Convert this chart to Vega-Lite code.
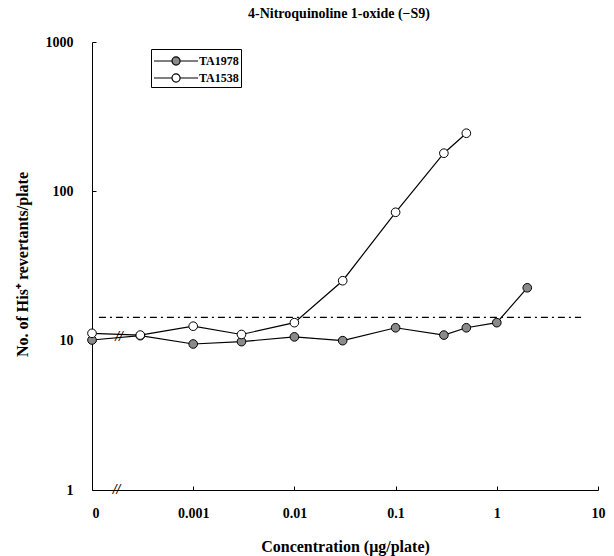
{
  "$schema": "https://vega.github.io/schema/vega-lite/v6.json",
  "width": 506,
  "height": 448,
  "autosize": {"type": "none"},
  "padding": {"left": 92, "top": 42, "right": 16, "bottom": 66},
  "background": "white",
  "title": {
    "text": "4-Nitroquinoline 1-oxide (\u2212S9)",
    "font": "Liberation Serif",
    "fontSize": 14,
    "fontWeight": "bold",
    "color": "black",
    "anchor": "middle",
    "baseline": "bottom",
    "offset": 14,
    "dx": -6,
    "dy": 14
  },
  "config": {
    "view": {"stroke": null},
    "font": "Liberation Serif",
    "axis": {
      "domainColor": "black",
      "tickColor": "black",
      "labelColor": "black",
      "titleColor": "black",
      "labelFont": "Liberation Serif",
      "titleFont": "Liberation Serif",
      "labelFontWeight": "bold",
      "titleFontWeight": "bold",
      "grid": false,
      "tickSize": -4
    }
  },
  "datasets": {
    "counts": [
      {"strain": "TA1978", "conc": 0.0001, "revertants": 10.1},
      {"strain": "TA1978", "conc": 0.0003, "revertants": 10.8},
      {"strain": "TA1978", "conc": 0.001, "revertants": 9.5},
      {"strain": "TA1978", "conc": 0.003, "revertants": 9.85},
      {"strain": "TA1978", "conc": 0.01, "revertants": 10.6},
      {"strain": "TA1978", "conc": 0.03, "revertants": 10.0},
      {"strain": "TA1978", "conc": 0.1, "revertants": 12.2},
      {"strain": "TA1978", "conc": 0.3, "revertants": 10.9},
      {"strain": "TA1978", "conc": 0.5, "revertants": 12.2},
      {"strain": "TA1978", "conc": 1, "revertants": 13.2},
      {"strain": "TA1978", "conc": 2, "revertants": 22.6},
      {"strain": "TA1538", "conc": 0.0001, "revertants": 11.2},
      {"strain": "TA1538", "conc": 0.0003, "revertants": 10.9},
      {"strain": "TA1538", "conc": 0.001, "revertants": 12.5},
      {"strain": "TA1538", "conc": 0.003, "revertants": 11.0},
      {"strain": "TA1538", "conc": 0.01, "revertants": 13.2},
      {"strain": "TA1538", "conc": 0.03, "revertants": 25.2},
      {"strain": "TA1538", "conc": 0.1, "revertants": 72.4},
      {"strain": "TA1538", "conc": 0.3, "revertants": 180},
      {"strain": "TA1538", "conc": 0.5, "revertants": 245}
    ],
    "threshold": [
      {"from": 0.000117, "to": 6.8, "level": 14.3}
    ],
    "breaks": [
      {"conc": 0.000175, "revertants": 1.0},
      {"conc": 0.000185, "revertants": 10.6}
    ]
  },
  "layer": [
    {
      "data": {"name": "threshold"},
      "mark": {"type": "rule", "color": "black", "strokeWidth": 1.3, "strokeDash": [7, 4, 2, 4]},
      "encoding": {
        "x": {"field": "from", "type": "quantitative", "scale": {"type": "log", "domain": [0.0001, 10]}},
        "x2": {"field": "to"},
        "y": {"field": "level", "type": "quantitative", "scale": {"type": "log", "domain": [1, 1000]}}
      }
    },
    {
      "data": {"name": "counts"},
      "mark": {"type": "line", "color": "black", "strokeWidth": 1.2},
      "encoding": {
        "x": {
          "field": "conc", "type": "quantitative",
          "scale": {"type": "log", "domain": [0.0001, 10]},
          "axis": {
            "values": [0.0001, 0.001, 0.01, 0.1, 1, 10],
            "labelExpr": "datum.value < 0.0005 ? '0' : datum.value < 0.005 ? '0.001' : datum.value < 0.05 ? '0.01' : datum.value < 0.5 ? '0.1' : datum.value < 5 ? '1' : '10'",
            "labelAlign": {"expr": "datum.value < 0.0005 ? 'left' : 'center'"},
            "labelFontSize": 14,
            "labelPadding": 20,
            "title": "Concentration (\u03bcg/plate)",
            "titleFontSize": 16,
            "titlePadding": 18
          }
        },
        "y": {
          "field": "revertants", "type": "quantitative",
          "scale": {"type": "log", "domain": [1, 1000]},
          "axis": {
            "values": [1, 10, 100, 1000],
            "format": "d",
            "labelFontSize": 14,
            "labelPadding": 23,
            "title": "No. of His\u207a revertants/plate",
            "titleFontSize": 16,
            "titleX": -70,
            "titleY": 222,
            "titleBaseline": "middle"
          }
        },
        "detail": {"field": "strain"}
      }
    },
    {
      "data": {"name": "counts"},
      "mark": {"type": "point", "shape": "circle", "filled": true, "stroke": "black", "strokeWidth": 1, "size": 75, "opacity": 1},
      "encoding": {
        "x": {"field": "conc", "type": "quantitative"},
        "y": {"field": "revertants", "type": "quantitative"},
        "fill": {
          "field": "strain", "type": "nominal",
          "scale": {"domain": ["TA1978", "TA1538"], "range": ["#8a8a8a", "white"]},
          "legend": {
            "title": null,
            "orient": "none",
            "legendX": 59,
            "legendY": 7,
            "direction": "vertical",
            "strokeColor": "black",
            "fillColor": "white",
            "padding": 2,
            "symbolType": "M-1,0H1M1.9,0H3.9M1,0A0.45,0.45,0,1,0,1.9,0A0.45,0.45,0,1,0,1,0Z",
            "symbolSize": 324,
            "symbolStrokeColor": "black",
            "symbolStrokeWidth": 1.2,
            "symbolOpacity": 1,
            "labelFont": "Liberation Serif",
            "labelFontSize": 12,
            "labelFontWeight": "bold",
            "labelColor": "black",
            "labelOffset": 26,
            "rowPadding": 0
          }
        }
      }
    },
    {
      "data": {"name": "breaks"},
      "mark": {"type": "text", "text": "//", "font": "Liberation Serif", "fontSize": 14, "fontStyle": "italic", "fontWeight": "bold", "color": "black"},
      "encoding": {
        "x": {"field": "conc", "type": "quantitative"},
        "y": {"field": "revertants", "type": "quantitative"}
      }
    }
  ]
}
